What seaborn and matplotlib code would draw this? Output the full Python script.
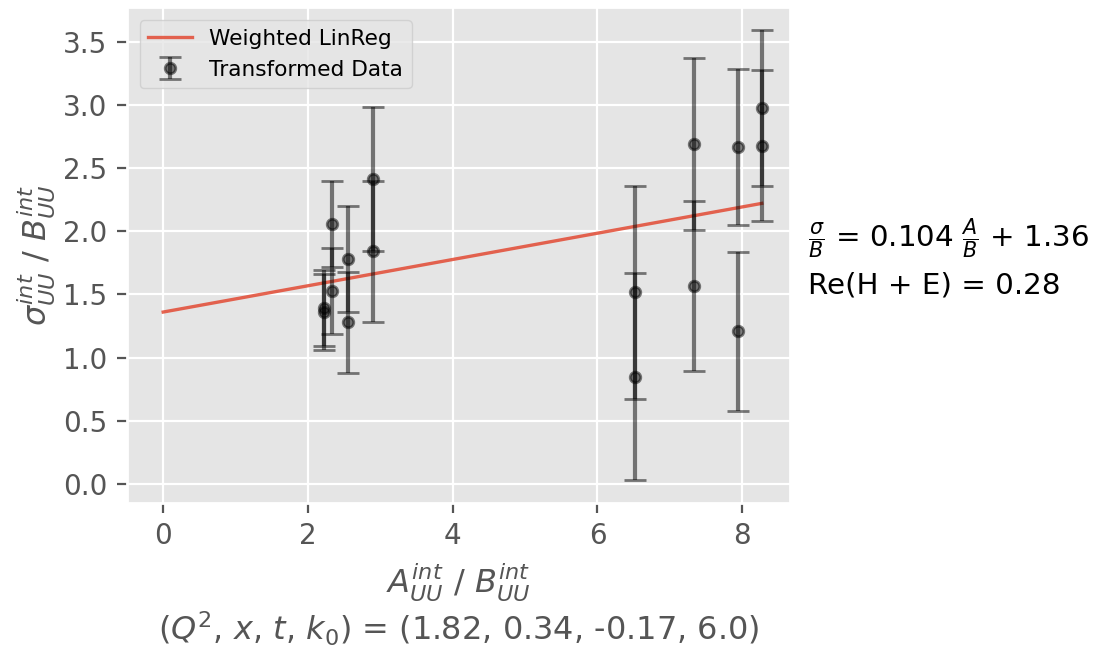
import matplotlib
matplotlib.use("Agg")
import matplotlib.pyplot as plt
import seaborn as sns
import numpy as np
import pandas as pd

# Data
x_vals = [2.22, 2.22, 2.33, 2.33, 2.56, 2.56, 2.90, 2.90,
          6.52, 6.52, 7.33, 7.33, 7.94, 7.94, 8.27, 8.27]
y_vals = [1.39, 1.36, 2.06, 1.53, 1.78, 1.28, 2.415, 1.84,
          1.516, 0.847, 2.69, 1.566, 2.667, 1.206, 2.976, 2.677]
y_err = [0.30, 0.30, 0.34, 0.34, 0.42, 0.40, 0.57, 0.56,
         0.845, 0.82, 0.68, 0.675, 0.62, 0.63, 0.62, 0.595]
slope = 0.104
intercept = 1.36
re_he = 0.28
kin_label = "(1.82, 0.34, -0.17, 6.0)"

plt.style.use("ggplot")

fig = plt.figure(figsize=(5.47, 3.245), dpi=200)
ax = fig.add_axes([127 / 1094, 1 - 503 / 649, (790 - 127) / 1094, (503 - 7) / 649])

fit_x = np.array([0.0, max(x_vals)])
fit_df = pd.DataFrame({"x": fit_x, "y": slope * fit_x + intercept})
sns.lineplot(data=fit_df, x="x", y="y", ax=ax, color="#E24A33", linewidth=1.2,
             alpha=0.85, label="Weighted LinReg")

ax.errorbar(x_vals, y_vals, yerr=y_err, fmt="o", color="black", alpha=0.5,
            markersize=3.8, capsize=4, elinewidth=1.5, capthick=1.0,
            label="Transformed Data")

ax.set_xlim(-0.5, 8.66)
ax.set_xticks([0, 2, 4, 6, 8])
ax.set_yticks(np.arange(0, 3.51, 0.5))
ax.tick_params(labelsize=10)

ax.set_xlabel("$A_{UU}^{int}$ / $B_{UU}^{int}$\n($Q^2$, $x$, $t$, $k_0$) = " + kin_label,
              fontsize=11.5, color="#555555", labelpad=4)
ax.set_ylabel("$\\sigma_{UU}^{int}$ / $B_{UU}^{int}$", fontsize=11.5, color="#555555",
              labelpad=2)

ax.legend(loc="upper left", fontsize=7.8, bbox_to_anchor=(0.003, 0.995))

fig.text(808 / 1094, 1 - 258 / 649,
         "$\\frac{\\sigma}{B}$ = %.3f $\\frac{A}{B}$ + %.2f\nRe(H + E) = %.2f" % (slope, intercept, re_he),
         fontsize=10.6, color="black", va="center", ha="left", linespacing=1.45)

fig.savefig("out.png", dpi=200)
